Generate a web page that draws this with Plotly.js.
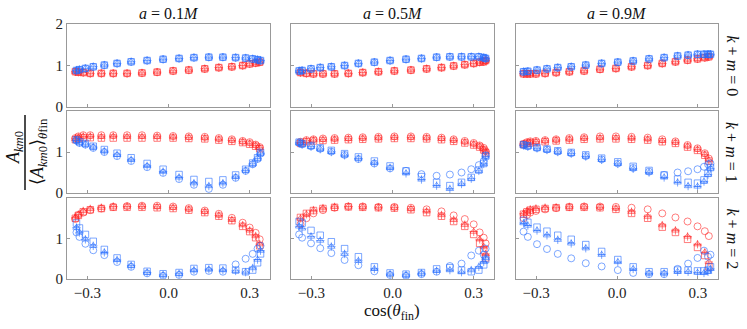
<!DOCTYPE html>
<html>
<head>
<meta charset="utf-8">
<script src="https://cdn.plot.ly/plotly-3.0.1.min.js"></script>
<style>body{margin:0;background:#fff}</style>
</head>
<body>
<div id="chart" style="width:747px;height:329px"></div>
<script>
// cos(theta_fin) positions, one grid per spin column
var xBlue1 = [-0.340,-0.329,-0.307,-0.278,-0.237,-0.190,-0.138,-0.079,-0.020,0.039,0.094,0.149,0.201,0.248,0.285,0.311,0.329,0.340];
var xRed1  = [-0.344,-0.333,-0.315,-0.289,-0.248,-0.204,-0.153,-0.098,-0.042,0.017,0.075,0.134,0.186,0.234,0.274,0.300,0.322,0.337];
var xBlue5 = [-0.345,-0.334,-0.301,-0.267,-0.226,-0.177,-0.126,-0.067,-0.009,0.050,0.107,0.163,0.212,0.255,0.291,0.319,0.337,0.344];
var xRed5  = [-0.340,-0.318,-0.292,-0.257,-0.214,-0.163,-0.110,-0.052,0.007,0.068,0.126,0.181,0.226,0.267,0.300,0.322,0.337,0.344];
var xBlue9 = [-0.347,-0.331,-0.297,-0.260,-0.220,-0.170,-0.116,-0.057,0.003,0.060,0.119,0.175,0.225,0.264,0.299,0.323,0.338,0.347];
var xRed9  = [-0.347,-0.334,-0.322,-0.301,-0.267,-0.226,-0.177,-0.122,-0.063,-0.004,0.054,0.114,0.168,0.217,0.262,0.299,0.326,0.341];

var spinLabels = ['0.1', '0.5', '0.9'];
var kmLabels = ['0', '1', '2'];

// k+m = 0
var blueA1K0 = [0.88,0.90,0.93,0.97,1.01,1.05,1.09,1.12,1.15,1.17,1.19,1.20,1.20,1.19,1.18,1.16,1.14,1.12];
var redA1K0  = [0.85,0.84,0.83,0.81,0.81,0.81,0.81,0.82,0.84,0.87,0.89,0.92,0.95,0.97,1.00,1.04,1.06,1.08];
var blueA5K0 = [0.87,0.88,0.92,0.95,0.97,1.00,1.05,1.08,1.12,1.15,1.17,1.20,1.21,1.21,1.21,1.21,1.19,1.17];
var redA5K0  = [0.83,0.81,0.80,0.80,0.80,0.81,0.83,0.85,0.87,0.89,0.92,0.95,0.99,1.02,1.05,1.08,1.09,1.12];
var blueA9K0 = [0.85,0.86,0.89,0.92,0.95,0.97,1.01,1.05,1.08,1.11,1.16,1.19,1.23,1.25,1.27,1.27,1.27,1.27];
var redA9K0  = [0.80,0.80,0.80,0.80,0.81,0.83,0.85,0.87,0.91,0.93,0.97,1.00,1.05,1.09,1.13,1.16,1.19,1.21];

// k+m = 1 (sq / tri / circ)
var blueSqA1K1  = [1.30,1.25,1.21,1.14,1.06,0.97,0.86,0.72,0.58,0.45,0.33,0.28,0.32,0.44,0.58,0.73,0.86,0.99];
var blueTriA1K1 = [1.28,1.23,1.19,1.12,1.02,0.93,0.81,0.66,0.52,0.38,0.24,0.17,0.24,0.39,0.55,0.71,0.84,0.97];
var blueCirA1K1 = [1.28,1.22,1.18,1.10,1.00,0.90,0.78,0.63,0.49,0.34,0.20,0.10,0.20,0.37,0.54,0.70,0.83,0.96];
var redSqA1K1   = [1.30,1.33,1.35,1.35,1.34,1.34,1.34,1.34,1.34,1.34,1.33,1.32,1.29,1.26,1.23,1.19,1.14,1.08];
var redTriA1K1  = [1.32,1.36,1.38,1.38,1.37,1.38,1.37,1.37,1.37,1.36,1.35,1.34,1.31,1.28,1.25,1.21,1.16,1.10];
var redCirA1K1  = [1.34,1.38,1.41,1.41,1.41,1.41,1.41,1.41,1.40,1.39,1.38,1.37,1.34,1.31,1.27,1.24,1.18,1.12];

var blueSqA5K1  = [1.24,1.20,1.16,1.10,1.04,0.96,0.88,0.78,0.66,0.54,0.40,0.26,0.18,0.26,0.38,0.56,0.72,0.90];
var blueTriA5K1 = [1.22,1.18,1.13,1.07,1.00,0.92,0.84,0.73,0.61,0.48,0.33,0.18,0.10,0.22,0.35,0.54,0.71,0.89];
var blueCirA5K1 = [1.23,1.19,1.14,1.08,1.01,0.93,0.83,0.72,0.60,0.54,0.46,0.42,0.45,0.50,0.58,0.68,0.78,0.92];
var redSqA5K1   = [1.21,1.25,1.27,1.28,1.29,1.30,1.31,1.32,1.33,1.33,1.32,1.30,1.26,1.22,1.17,1.12,1.05,0.98];
var redTriA5K1  = [1.23,1.27,1.29,1.30,1.31,1.32,1.33,1.34,1.35,1.35,1.34,1.32,1.28,1.24,1.19,1.14,1.07,1.00];
var redCirA5K1  = [1.25,1.29,1.31,1.33,1.34,1.35,1.36,1.37,1.38,1.38,1.37,1.35,1.31,1.27,1.22,1.16,1.10,1.02];

var blueSqA9K1  = [1.18,1.15,1.11,1.07,1.03,0.99,0.93,0.85,0.76,0.65,0.55,0.44,0.34,0.26,0.24,0.32,0.48,0.62];
var blueTriA9K1 = [1.16,1.13,1.09,1.05,1.00,0.96,0.89,0.81,0.71,0.59,0.50,0.38,0.26,0.17,0.16,0.28,0.45,0.60];
var blueCirA9K1 = [1.17,1.14,1.10,1.06,1.01,0.97,0.90,0.82,0.72,0.61,0.52,0.44,0.50,0.53,0.58,0.64,0.70,0.72];
var redSqA9K1   = [1.18,1.21,1.22,1.23,1.25,1.27,1.29,1.31,1.32,1.32,1.31,1.29,1.25,1.21,1.12,1.04,0.92,0.78];
var redTriA9K1  = [1.19,1.22,1.24,1.25,1.27,1.29,1.31,1.33,1.34,1.34,1.33,1.31,1.27,1.23,1.14,1.06,0.94,0.80];
var redCirA9K1  = [1.20,1.24,1.26,1.27,1.29,1.31,1.34,1.36,1.38,1.38,1.37,1.35,1.31,1.26,1.17,1.09,0.97,0.84];

// k+m = 2
var blueSqA1K2  = [1.38,1.26,1.10,0.93,0.73,0.52,0.36,0.19,0.13,0.16,0.26,0.28,0.27,0.22,0.18,0.22,0.40,0.62];
var blueTriA1K2 = [1.27,1.15,0.98,0.82,0.66,0.47,0.33,0.16,0.10,0.13,0.22,0.24,0.22,0.20,0.17,0.27,0.48,0.70];
var blueCirA1K2 = [1.15,1.04,0.87,0.71,0.59,0.42,0.30,0.14,0.08,0.10,0.18,0.20,0.18,0.36,0.50,0.62,0.75,0.82];
var redSqA1K2   = [1.50,1.57,1.66,1.71,1.74,1.77,1.77,1.77,1.76,1.74,1.70,1.64,1.55,1.44,1.30,1.17,1.02,0.82];
var redTriA1K2  = [1.52,1.59,1.68,1.73,1.76,1.79,1.79,1.79,1.78,1.76,1.72,1.66,1.57,1.46,1.33,1.20,1.06,0.86];
var redCirA1K2  = [1.48,1.58,1.64,1.70,1.74,1.78,1.80,1.81,1.81,1.79,1.75,1.69,1.61,1.51,1.39,1.27,1.14,0.98];

var blueSqA5K2  = [1.42,1.38,1.20,1.08,0.92,0.75,0.55,0.30,0.15,0.12,0.16,0.25,0.28,0.22,0.18,0.22,0.35,0.48];
var blueTriA5K2 = [1.30,1.25,1.05,0.95,0.80,0.62,0.45,0.25,0.12,0.10,0.14,0.20,0.22,0.17,0.22,0.30,0.42,0.52];
var blueCirA5K2 = [1.10,1.02,0.88,0.76,0.64,0.47,0.34,0.19,0.10,0.08,0.12,0.18,0.32,0.38,0.58,0.70,0.60,0.75];
var redSqA5K2   = [1.52,1.62,1.69,1.74,1.77,1.78,1.77,1.76,1.75,1.71,1.64,1.55,1.42,1.30,1.10,0.88,0.70,0.52];
var redTriA5K2  = [1.50,1.60,1.70,1.75,1.78,1.79,1.78,1.77,1.76,1.73,1.67,1.58,1.46,1.34,1.17,0.98,0.80,0.62];
var redCirA5K2  = [1.35,1.50,1.62,1.70,1.76,1.79,1.79,1.78,1.78,1.76,1.72,1.67,1.57,1.48,1.35,1.15,1.02,0.88];

var blueSqA9K2  = [1.45,1.40,1.28,1.18,1.08,0.98,0.85,0.68,0.48,0.30,0.18,0.18,0.22,0.22,0.20,0.20,0.22,0.30];
var blueTriA9K2 = [1.38,1.32,1.20,1.08,0.97,0.88,0.76,0.60,0.42,0.25,0.14,0.14,0.18,0.18,0.16,0.15,0.18,0.25];
var blueCirA9K2 = [1.17,1.04,0.86,0.74,0.62,0.51,0.39,0.31,0.22,0.15,0.12,0.12,0.25,0.38,0.52,0.70,0.55,0.60];
var redSqA9K2   = [1.60,1.66,1.70,1.72,1.74,1.76,1.77,1.77,1.76,1.72,1.62,1.50,1.28,1.15,0.98,0.78,0.58,0.30];
var redTriA9K2  = [1.62,1.68,1.72,1.74,1.76,1.77,1.78,1.78,1.77,1.74,1.66,1.54,1.33,1.20,1.05,0.86,0.66,0.42];
var redCirA9K2  = [1.50,1.58,1.64,1.68,1.72,1.75,1.78,1.79,1.79,1.78,1.76,1.72,1.62,1.52,1.42,1.30,1.18,1.06];

// panel table: row = k+m, col = spin
var panels = [
    {row: 0, col: 0, xb: xBlue1, xr: xRed1, blue: [blueA1K0, blueA1K0, blueA1K0], red: [redA1K0, redA1K0, redA1K0]},
    {row: 0, col: 1, xb: xBlue5, xr: xRed5, blue: [blueA5K0, blueA5K0, blueA5K0], red: [redA5K0, redA5K0, redA5K0]},
    {row: 0, col: 2, xb: xBlue9, xr: xRed9, blue: [blueA9K0, blueA9K0, blueA9K0], red: [redA9K0, redA9K0, redA9K0]},
    {row: 1, col: 0, xb: xBlue1, xr: xRed1, blue: [blueSqA1K1, blueTriA1K1, blueCirA1K1], red: [redSqA1K1, redTriA1K1, redCirA1K1]},
    {row: 1, col: 1, xb: xBlue5, xr: xRed5, blue: [blueSqA5K1, blueTriA5K1, blueCirA5K1], red: [redSqA5K1, redTriA5K1, redCirA5K1]},
    {row: 1, col: 2, xb: xBlue9, xr: xRed9, blue: [blueSqA9K1, blueTriA9K1, blueCirA9K1], red: [redSqA9K1, redTriA9K1, redCirA9K1]},
    {row: 2, col: 0, xb: xBlue1, xr: xRed1, blue: [blueSqA1K2, blueTriA1K2, blueCirA1K2], red: [redSqA1K2, redTriA1K2, redCirA1K2]},
    {row: 2, col: 1, xb: xBlue5, xr: xRed5, blue: [blueSqA5K2, blueTriA5K2, blueCirA5K2], red: [redSqA5K2, redTriA5K2, redCirA5K2]},
    {row: 2, col: 2, xb: xBlue9, xr: xRed9, blue: [blueSqA9K2, blueTriA9K2, blueCirA9K2], red: [redSqA9K2, redTriA9K2, redCirA9K2]}
];

var W = 747, H = 329;
var colPx = [[67, 270], [291, 494], [516, 718]];
var rowPx = [[24, 107], [111, 193], [198, 279]];

var BLUE = 'rgba(40,110,255,0.6)';
var RED = 'rgba(255,40,40,0.6)';
var serif = 'Liberation Serif, DejaVu Serif, serif';

//build traces
var traces = [];
function addSet(xs, ys, color, ax) {
    // ys = [square, triangle, circle]
    var sets = [
        {y: ys[2], sym: 'circle-open', size: 7},
        {y: ys[0], sym: 'square-open', size: 6.5},
        {y: ys[1], sym: 'triangle-up-open', size: 6.5},
        {y: ys[1], sym: 'cross-thin-open', size: 6}
    ];
    sets.forEach(function (s) {
        traces.push({
            x: xs, y: s.y, type: 'scatter', mode: 'markers',
            xaxis: 'x' + ax, yaxis: 'y' + ax, showlegend: false, hoverinfo: 'skip',
            marker: {symbol: s.sym, size: s.size, color: color, line: {color: color, width: 1}}
        });
    });
}

var layout = {
    width: W, height: H,
    margin: {l: 0, r: 0, t: 0, b: 0},
    paper_bgcolor: '#fff', plot_bgcolor: '#fff',
    showlegend: false,
    annotations: [], shapes: []
};

panels.forEach(function (p, i) {
    var ax = i === 0 ? '' : String(i + 1);
    addSet(p.xr, p.red, RED, ax);
    addSet(p.xb, p.blue, BLUE, ax);

    var cx = colPx[p.col], ry = rowPx[p.row];
    layout['xaxis' + ax] = {
        domain: [cx[0] / W, cx[1] / W],
        anchor: 'y' + ax,
        range: [-0.375, 0.375],
        tickvals: [-0.3, 0, 0.3],
        ticktext: ['\u22120.3', '0.0', '0.3'],
        showticklabels: p.row === 2,
        ticks: 'inside', ticklen: 3, tickcolor: '#999',
        showline: true, linecolor: '#999', linewidth: 1, mirror: true,
        showgrid: false, zeroline: false,
        tickfont: {family: serif, size: 15, color: '#222'}
    };
    layout['yaxis' + ax] = {
        domain: [1 - ry[1] / H, 1 - ry[0] / H],
        anchor: 'x' + ax,
        range: [0, 2],
        tickvals: p.row === 0 ? [0, 1, 2] : [0, 1],
        showticklabels: p.col === 0,
        ticks: 'inside', ticklen: 3, tickcolor: '#999',
        showline: true, linecolor: '#999', linewidth: 1, mirror: true,
        showgrid: false, zeroline: false,
        tickfont: {family: serif, size: 15, color: '#222'}
    };
});

function note(px, py, text, size, angle) {
    layout.annotations.push({
        xref: 'paper', yref: 'paper', showarrow: false,
        xanchor: 'center', yanchor: 'middle',
        x: px / W, y: 1 - py / H,
        textangle: angle || 0,
        text: text,
        font: {family: serif, size: size, color: '#111'}
    });
}

// column titles
spinLabels.forEach(function (s, c) {
    note((colPx[c][0] + colPx[c][1]) / 2, 14, '<i>a</i> = ' + s + '<i>M</i>', 16);
});

// row labels on the right
kmLabels.forEach(function (k, r) {
    note(732, (rowPx[r][0] + rowPx[r][1]) / 2, '<i>k</i> + <i>m</i> = ' + k, 16, 90);
});

// x label
note(392, 312, 'cos(<i>θ</i><sub>fin</sub>)', 17);

// y label as a fraction
note(15, 148, '<i>A</i><sub><i>km</i>0</sub>', 18, -90);
note(38, 152, '⟨<i>A</i><sub><i>km</i>0</sub>⟩<sub><i>θ</i>fin</sub>', 18, -90);
layout.shapes.push({
    type: 'line', xref: 'paper', yref: 'paper',
    x0: 25 / W, x1: 25 / W, y0: 1 - 115 / H, y1: 1 - 190 / H,
    line: {color: '#111', width: 1.5}
});

Plotly.newPlot('chart', traces, layout, {staticPlot: true, displayModeBar: false});
</script>
</body>
</html>
